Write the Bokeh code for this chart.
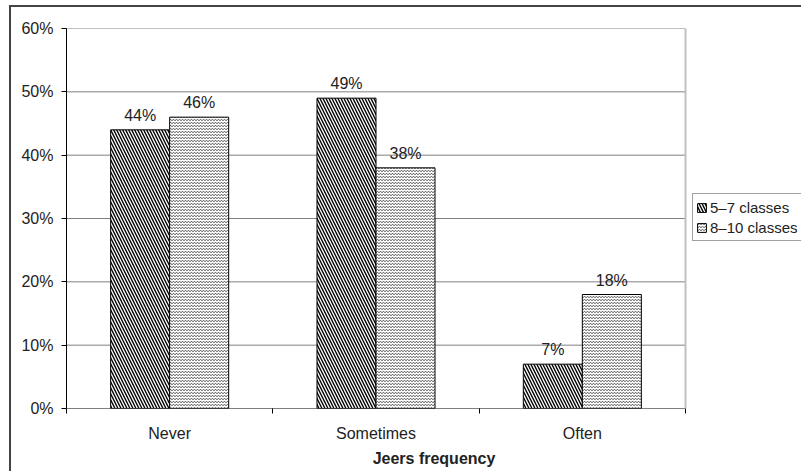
from bokeh.plotting import figure
from bokeh.models import (ColumnDataSource, FixedTicker, PrintfTickFormatter, Range1d,
                          Legend, LegendItem, Span)
from bokeh.core.properties import value
from bokeh.embed import file_html
from bokeh.resources import INLINE

categories = ["Never", "Sometimes", "Often"]
series_names = ["5\u20137 classes", "8\u201310 classes"]
values_5_7 = [44, 49, 7]
values_8_10 = [46, 38, 18]
y_ticks = [0, 10, 20, 30, 40, 50, 60]

FONT = "Liberation Sans"
TXT = "#222222"

W, H = 792, 466
BL, BR, BT, BB = 55, 2, 21, 65
PLOT_W = 619  # width of the bordered plot area inside the frame
FRAME_W = W - BL - BR

n = len(categories)
centers = [i + 0.5 for i in range(n)]
bw = 0.286
x1 = [c - bw / 2 for c in centers]
x2 = [c + bw / 2 for c in centers]

src1 = ColumnDataSource(dict(x=x1, top=values_5_7,
                             lab=[f"{v}%" for v in values_5_7]))
src2 = ColumnDataSource(dict(x=x2, top=values_8_10,
                             lab=[f"{v}%" for v in values_8_10]))

p = figure(width=W, height=H, output_backend="svg", toolbar_location=None,
           x_range=Range1d(0, n * FRAME_W / PLOT_W), y_range=Range1d(0, 60),
           min_border_left=BL, min_border_right=BR, min_border_top=BT,
           min_border_bottom=BB, margin=(5, 0, 0, 9))
p.styles = {"border-left": "2px solid #444444", "border-top": "2px solid #444444"}

p.outline_line_color = None
p.background_fill_color = "white"
p.border_fill_color = "white"
p.grid.grid_line_color = None

# horizontal gridlines limited to the plot area
gsrc = ColumnDataSource(dict(y=y_ticks[1:], x0=[0] * (len(y_ticks) - 1),
                             x1=[n] * (len(y_ticks) - 1)))
p.segment(x0="x0", y0="y", x1="x1", y1="y", source=gsrc,
          line_color="#808080", line_width=1)
# right edge of plot area
p.add_layout(Span(location=n, dimension="height", line_color="#c0c0c0",
                  line_width=2))

r1 = p.vbar(x="x", top="top", width=bw, source=src1, fill_color="white",
            line_color="black", line_width=1, hatch_pattern="left_diagonal_line",
            hatch_color="black", hatch_scale=6, hatch_weight=1.4)
r2 = p.vbar(x="x", top="top", width=bw, source=src2, fill_color="white",
            line_color="black", line_width=1, hatch_pattern="horizontal_wave",
            hatch_color="#444444", hatch_scale=3, hatch_weight=1.0)

# x axis line limited to plot area
p.segment(x0=[0], y0=[0], x1=[n], y1=[0], line_color="black", line_width=1)

for src in (src1, src2):
    p.text(x="x", y="top", text="lab", source=src, text_align="center",
           text_baseline="bottom", y_offset=-6, text_font=value(FONT),
           text_font_size="16px", text_color=TXT)

# y axis
p.yaxis.ticker = FixedTicker(ticks=y_ticks)
p.yaxis.formatter = PrintfTickFormatter(format="%d%%")
p.yaxis.axis_line_color = "black"
p.yaxis.major_tick_line_color = "black"
p.yaxis.major_tick_out = 5
p.yaxis.major_tick_in = 0
p.yaxis.minor_tick_line_color = None
p.yaxis.major_label_standoff = 8
p.yaxis.major_label_text_font = FONT
p.yaxis.major_label_text_font_size = "16px"
p.yaxis.major_label_text_color = TXT

# x axis
p.xaxis.ticker = FixedTicker(ticks=centers, minor_ticks=list(range(n + 1)))
p.xaxis.major_label_overrides = {c: cat for c, cat in zip(centers, categories)}
p.xaxis.axis_line_color = None
p.xaxis.major_tick_line_color = None
p.xaxis.major_tick_out = 0
p.xaxis.major_tick_in = 0
p.xaxis.minor_tick_line_color = "black"
p.xaxis.minor_tick_out = 5
p.xaxis.minor_tick_in = 0
p.xaxis.major_label_standoff = 11
p.xaxis.major_label_text_font = FONT
p.xaxis.major_label_text_font_size = "16px"
p.xaxis.major_label_text_color = TXT
p.xaxis.axis_label = "Jeers frequency"
p.xaxis.axis_label_text_font = FONT
p.xaxis.axis_label_text_font_size = "16px"
p.xaxis.axis_label_text_font_style = "bold"
p.xaxis.axis_label_text_color = TXT
p.xaxis.axis_label_standoff = 5
p.xaxis.bounds = (0, n)

legend = Legend(items=[LegendItem(label=series_names[0], renderers=[r1]),
                       LegendItem(label=series_names[1], renderers=[r2])],
                location=(PLOT_W + 7, 167), orientation="vertical",
                glyph_width=11, glyph_height=11, label_height=20,
                label_standoff=3, padding=3, spacing=0, margin=0,
                label_text_font=FONT, label_text_font_size="15px",
                label_text_color=TXT, border_line_color="#444444",
                border_line_width=1, background_fill_alpha=1)
p.add_layout(legend, "center")

open("out.html", "w").write(file_html(p, INLINE))
